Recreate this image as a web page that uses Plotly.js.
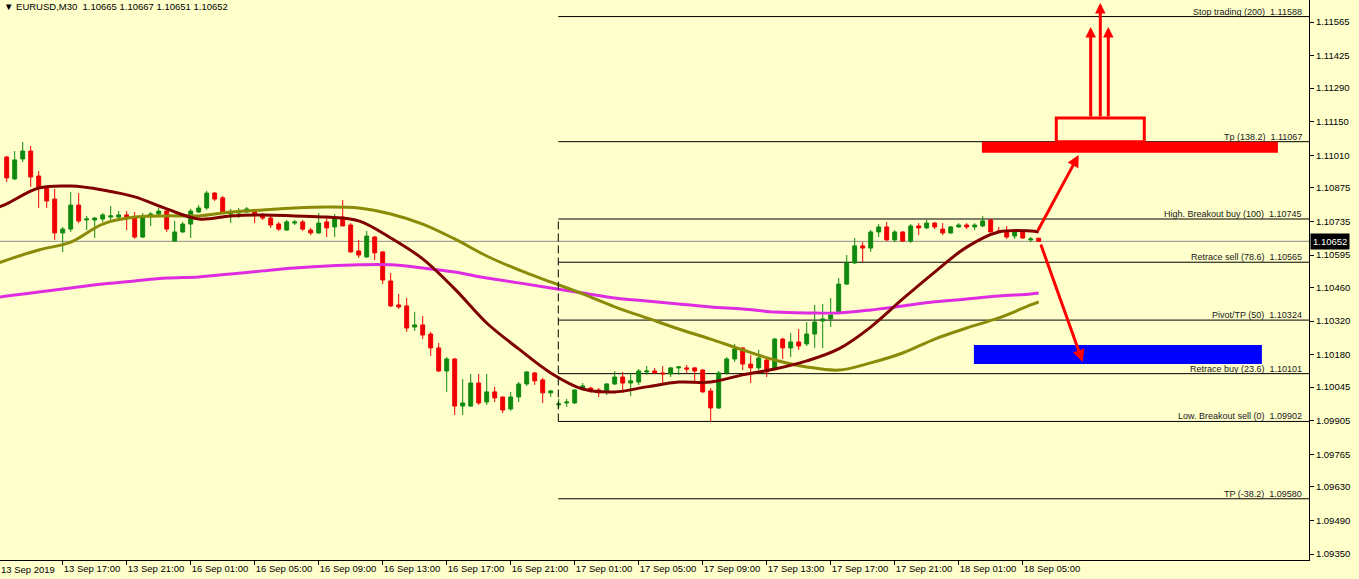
<!DOCTYPE html>
<html>
<head>
<meta charset="utf-8">
<script src="https://cdn.plot.ly/plotly-3.0.1.min.js"></script>
<style>
html,body{margin:0;padding:0;background:#FFFFCC;}
#chart{width:1359px;height:579px;}
</style>
</head>
<body>
<div id="chart"></div>
<script>
// ---- Candle data (EURUSD M30), bar 0 = 13 Sep 13:30 ----
const open  = [1.11003,1.10912,1.10995,1.11028,1.10924,1.10874,1.10828,1.10687,1.10703,1.10803,
1.10741,1.10741,1.10745,1.10753,1.10753,1.10762,1.10753,1.10670,1.10758,1.10766,
1.10778,1.10653,1.10691,1.10724,1.10774,1.10791,1.10853,1.10833,1.10766,1.10770,
1.10774,1.10778,1.10762,1.10749,1.10724,1.10699,1.10728,1.10733,1.10699,1.10687,
1.10733,1.10712,1.10753,1.10720,1.10612,1.10587,1.10670,1.10608,1.10487,1.10387,
1.10383,1.10295,1.10304,1.10266,1.10208,1.10112,1.10162,1.09966,1.09966,1.10062,
1.09983,1.10025,1.10004,1.09954,1.10004,1.10058,1.10104,1.10075,1.10021,1.09971,
1.09979,1.09979,1.10041,1.10041,1.10033,1.10025,1.10058,1.10087,1.10062,1.10066,
1.10108,1.10112,1.10104,1.10100,1.10125,1.10125,1.10125,1.10116,1.10029,1.09958,
1.10104,1.10162,1.10208,1.10141,1.10125,1.10158,1.10125,1.10245,1.10208,1.10233,
1.10225,1.10266,1.10320,1.10329,1.10358,1.10474,1.10562,1.10633,1.10624,1.10691,
1.10712,1.10658,1.10691,1.10653,1.10716,1.10708,1.10728,1.10703,1.10687,1.10712,
1.10720,1.10712,1.10716,1.10741,1.10695,1.10691,1.10674,1.10691,1.10658,1.10665];
const high  = [1.11008,1.11028,1.11066,1.11049,1.10945,1.10878,1.10870,1.10712,1.10857,1.10853,
1.10758,1.10753,1.10770,1.10799,1.10778,1.10778,1.10774,1.10770,1.10774,1.10791,
1.10791,1.10737,1.10733,1.10787,1.10803,1.10862,1.10857,1.10841,1.10787,1.10791,
1.10795,1.10787,1.10770,1.10758,1.10733,1.10741,1.10741,1.10741,1.10708,1.10770,
1.10749,1.10766,1.10824,1.10728,1.10658,1.10695,1.10674,1.10612,1.10520,1.10433,
1.10416,1.10358,1.10341,1.10275,1.10229,1.10170,1.10166,1.10079,1.10100,1.10100,
1.10100,1.10046,1.10004,1.10025,1.10066,1.10112,1.10108,1.10083,1.10033,1.09996,
1.09996,1.10037,1.10062,1.10046,1.10041,1.10062,1.10112,1.10108,1.10104,1.10120,
1.10133,1.10125,1.10133,1.10129,1.10133,1.10137,1.10129,1.10120,1.10041,1.10112,
1.10170,1.10225,1.10212,1.10179,1.10200,1.10170,1.10250,1.10250,1.10270,1.10287,
1.10316,1.10387,1.10391,1.10416,1.10499,1.10595,1.10666,1.10649,1.10699,1.10724,
1.10733,1.10699,1.10695,1.10724,1.10728,1.10741,1.10733,1.10728,1.10716,1.10728,
1.10728,1.10728,1.10758,1.10745,1.10712,1.10716,1.10695,1.10695,1.10670,1.10667];
const low   = [1.10899,1.10907,1.10982,1.10878,1.10791,1.10791,1.10658,1.10608,1.10691,1.10728,
1.10699,1.10666,1.10733,1.10733,1.10737,1.10699,1.10662,1.10666,1.10716,1.10758,
1.10691,1.10653,1.10687,1.10666,1.10770,1.10783,1.10820,1.10766,1.10728,1.10749,
1.10770,1.10728,1.10741,1.10708,1.10695,1.10695,1.10720,1.10695,1.10678,1.10683,
1.10670,1.10670,1.10716,1.10604,1.10583,1.10583,1.10574,1.10474,1.10379,1.10370,
1.10275,1.10279,1.10245,1.10175,1.10108,1.10025,1.09929,1.09929,1.09962,1.09971,
1.09971,1.09983,1.09937,1.09946,1.09983,1.10050,1.10054,1.09979,1.10004,1.09958,
1.09962,1.09975,1.10033,1.10021,1.10004,1.10012,1.10054,1.10021,1.10008,1.10054,
1.10096,1.10100,1.10062,1.10087,1.10096,1.10104,1.10071,1.10021,1.09900,1.09954,
1.10096,1.10150,1.10116,1.10062,1.10116,1.10087,1.10116,1.10162,1.10170,1.10200,
1.10216,1.10208,1.10208,1.10295,1.10354,1.10470,1.10558,1.10566,1.10608,1.10670,
1.10653,1.10649,1.10649,1.10645,1.10678,1.10703,1.10703,1.10678,1.10683,1.10708,
1.10703,1.10699,1.10712,1.10691,1.10687,1.10662,1.10662,1.10662,1.10649,1.10651];
const close = [1.10916,1.10991,1.11028,1.10920,1.10878,1.10820,1.10687,1.10703,1.10803,1.10737,
1.10745,1.10749,1.10762,1.10758,1.10762,1.10749,1.10670,1.10758,1.10766,1.10778,
1.10703,1.10691,1.10724,1.10778,1.10791,1.10853,1.10828,1.10774,1.10770,1.10778,
1.10787,1.10762,1.10749,1.10720,1.10703,1.10733,1.10733,1.10703,1.10687,1.10728,
1.10708,1.10745,1.10716,1.10608,1.10595,1.10674,1.10604,1.10491,1.10383,1.10379,
1.10291,1.10304,1.10262,1.10208,1.10112,1.10162,1.09966,1.09979,1.10062,1.09979,
1.10025,1.10000,1.09950,1.10004,1.10058,1.10108,1.10071,1.10021,1.10029,1.09975,
1.09983,1.10033,1.10050,1.10029,1.10021,1.10058,1.10087,1.10062,1.10071,1.10112,
1.10112,1.10104,1.10100,1.10125,1.10129,1.10120,1.10112,1.10025,1.09958,1.10104,
1.10162,1.10204,1.10141,1.10125,1.10166,1.10108,1.10245,1.10208,1.10233,1.10216,
1.10266,1.10316,1.10329,1.10345,1.10474,1.10562,1.10633,1.10624,1.10691,1.10712,
1.10658,1.10691,1.10653,1.10716,1.10708,1.10728,1.10712,1.10687,1.10712,1.10720,
1.10712,1.10720,1.10737,1.10691,1.10691,1.10670,1.10691,1.10666,1.10662,1.10652];

// ---- Moving averages read at every 4th bar (index -1 = bar just left of the window) ----
const maIdx = [-1,0,4,8,12,16,20,24,28,32,36,40,44,48,52,56,60,64,68,72,76,80,84,88,92,96,100,104,108,112,116,120,124,128,129];
const maFast = [1.10795,1.10808,1.10874,1.10882,1.10866,1.10837,1.10787,1.10745,1.10758,1.10762,1.10758,1.10753,1.10737,
1.10666,1.10579,1.10454,1.10312,1.10204,1.10104,1.10037,1.10025,1.10046,1.10066,1.10066,1.10096,1.10120,1.10154,
1.10204,1.10295,1.10412,1.10524,1.10628,1.10691,1.10695,1.10691];
const maMid = [1.10562,1.10574,1.10616,1.10649,1.10724,1.10753,1.10758,1.10758,1.10774,1.10783,1.10791,1.10795,1.10791,
1.10766,1.10724,1.10662,1.10591,1.10533,1.10483,1.10433,1.10379,1.10333,1.10287,1.10245,1.10200,1.10158,1.10129,
1.10116,1.10146,1.10187,1.10245,1.10291,1.10333,1.10387,1.10400];
const maSlow = [1.10420,1.10424,1.10441,1.10458,1.10474,1.10487,1.10499,1.10504,1.10516,1.10529,1.10541,1.10549,1.10554,
1.10554,1.10541,1.10524,1.10499,1.10479,1.10458,1.10437,1.10416,1.10404,1.10391,1.10379,1.10370,1.10358,1.10354,
1.10354,1.10366,1.10383,1.10400,1.10412,1.10424,1.10433,1.10437];

// ---- Axis labels ----
const timeTickIdx = [-1,7,15,23,31,39,47,55,63,71,79,87,95,103,111,119,127];
const timeTickText = ['13 Sep 2019','13 Sep 17:00','13 Sep 21:00','16 Sep 01:00','16 Sep 05:00','16 Sep 09:00',
'16 Sep 13:00','16 Sep 17:00','16 Sep 21:00','17 Sep 01:00','17 Sep 05:00','17 Sep 09:00','17 Sep 13:00',
'17 Sep 17:00','17 Sep 21:00','18 Sep 01:00','18 Sep 05:00'];
const priceTicks = [1.11565,1.11425,1.11290,1.11150,1.11010,1.10875,1.10735,1.10595,1.10460,1.10320,1.10180,1.10045,1.09905,1.09765,1.09630,1.09490,1.09350];

// ---- Fibonacci levels ----
const fibLevels = [1.11588,1.11067,1.10745,1.10565,1.10324,1.10101,1.09902,1.09580];
const fibNames = ['Stop trading (200)','Tp (138.2)','High. Breakout buy (100)','Retrace sell (78.6)','Pivot/TP (50)','Retrace buy (23.6)','Low. Breakout sell (0)','TP (-38.2)'];
const fibStartIdx = 68.95;

const symbol = 'EURUSD,M30';
const n = close.length - 1;
const lastPrice = close[n];

const xRange = [-0.8375, 162.7875];
const yRange = [1.09325, 1.11657];
const FONT = "Tahoma, 'Liberation Sans', Arial, sans-serif";
const bars = close.map((_, i) => i);

const traces = [
  {
    type: 'candlestick', x: bars, open: open, high: high, low: low, close: close,
    increasing: {line: {color: '#0F8A0F', width: 1}, fillcolor: '#0F8A0F'},
    decreasing: {line: {color: '#F00000', width: 1}, fillcolor: '#F00000'},
    whiskerwidth: 0, hoverinfo: 'skip', showlegend: false
  },
  {type: 'scatter', mode: 'lines', x: maIdx, y: maSlow, line: {color: '#E02CE0', width: 3, shape: 'spline'}, hoverinfo: 'skip', showlegend: false},
  {type: 'scatter', mode: 'lines', x: maIdx, y: maMid, line: {color: '#8A8A08', width: 3, shape: 'spline'}, hoverinfo: 'skip', showlegend: false},
  {type: 'scatter', mode: 'lines', x: maIdx, y: maFast, line: {color: '#800000', width: 3, shape: 'spline'}, hoverinfo: 'skip', showlegend: false}
];

const shapes = [];
// current price line
shapes.push({type: 'line', xref: 'paper', x0: 0, x1: 1, yref: 'y', y0: lastPrice, y1: lastPrice, line: {color: '#8C8C8C', width: 1}, layer: 'below'});
// fib lines
fibLevels.forEach(l => shapes.push({type: 'line', xref: 'x', x0: fibStartIdx, x1: xRange[1], yref: 'y', y0: l, y1: l, line: {color: '#000000', width: 1}, layer: 'below'}));
// dashed vertical line of fib tool
shapes.push({type: 'line', xref: 'x', x0: fibStartIdx, x1: fibStartIdx, yref: 'y', y0: fibLevels[6], y1: fibLevels[2], line: {color: '#000000', width: 1, dash: '8px,4px'}});
// red filled target bar
shapes.push({type: 'rect', xref: 'x', x0: 121.9, x1: 158.9, yref: 'y', y0: 1.11021, y1: fibLevels[1], fillcolor: '#FF0000', line: {width: 0}});
// red outlined box
shapes.push({type: 'rect', xref: 'x', x0: 131.2, x1: 142.2, yref: 'y', y0: fibLevels[1], y1: 1.11166, fillcolor: 'rgba(0,0,0,0)', line: {color: '#FF0000', width: 3}});
// blue zone
shapes.push({type: 'rect', xref: 'x', x0: 120.9, x1: 156.9, yref: 'y', y0: 1.10141, y1: 1.10220, fillcolor: '#0000FF', line: {width: 0}});

const annotations = [];
fibLevels.forEach((l, k) => annotations.push({
  xref: 'paper', x: 1, xanchor: 'right', xshift: -5, yref: 'y', y: l, yanchor: 'bottom', yshift: -2,
  text: fibNames[k] + '\u00a0\u00a0' + l.toFixed(5), showarrow: false,
  font: {family: FONT, size: 9, color: '#202020'}
}));
// price label on axis
annotations.push({xref: 'paper', x: 1, xanchor: 'left', xshift: 1, yref: 'y', y: lastPrice, yanchor: 'middle',
  text: lastPrice.toFixed(5), showarrow: false, bgcolor: '#000000', borderpad: 2,
  font: {family: FONT, size: 9.5, color: '#FFFFFF'}});
// header
annotations.push({xref: 'paper', x: 0, xanchor: 'left', xshift: 2, yref: 'paper', y: 1, yanchor: 'top', yshift: 1,
  text: '\u25BC\u00a0' + symbol + '\u00a0\u00a0' + [open[n], high[n], low[n], close[n]].map(v => v.toFixed(5)).join(' '),
  showarrow: false, font: {family: FONT, size: 9.5, color: '#000000'}});
// first date label (its tick lies left of the window)
annotations.push({xref: 'paper', x: 0, xanchor: 'left', xshift: -1, yref: 'paper', y: 0, yanchor: 'top', yshift: -2,
  text: timeTickText[0], showarrow: false, font: {family: FONT, size: 9.5, color: '#000000'}});

// arrows
const arrowList = [
  {tail: [135.5, 1.11166], head: [135.5, 1.11545], size: 0.7},
  {tail: [136.7, 1.11166], head: [136.7, 1.11645], size: 0.7},
  {tail: [137.7, 1.11166], head: [137.7, 1.11545], size: 0.7},
  {tail: [128.8, 1.10691], head: [134.0, 1.11012], size: 0.8},
  {tail: [129.2, 1.10645], head: [134.5, 1.10150], size: 0.8}
];
arrowList.forEach(a => annotations.push({
  xref: 'x', yref: 'y', axref: 'x', ayref: 'y', x: a.head[0], y: a.head[1], ax: a.tail[0], ay: a.tail[1],
  text: '', showarrow: true, arrowhead: 2, arrowsize: a.size, arrowwidth: 3, arrowcolor: '#FF0000', standoff: 0, startstandoff: 0
}));

const layout = {
  width: 1359, height: 579,
  margin: {l: 0, r: 50, t: 0, b: 19, pad: 0},
  paper_bgcolor: '#FFFFCC', plot_bgcolor: '#FFFFCC',
  showlegend: false, hovermode: false,
  font: {family: FONT, size: 9.5, color: '#000000'},
  xaxis: {
    range: xRange, rangeslider: {visible: false}, showgrid: false, zeroline: false,
    showline: true, linecolor: '#000000', linewidth: 1, automargin: false,
    tickmode: 'array', tickvals: timeTickIdx, ticktext: timeTickText, tickangle: 0,
    ticks: 'outside', ticklen: 4, tickcolor: '#000000', ticklabelposition: 'outside right',
    tickfont: {family: FONT, size: 9.5, color: '#000000'}, fixedrange: true
  },
  yaxis: {
    range: yRange, side: 'right', showgrid: false, zeroline: false,
    showline: true, linecolor: '#000000', linewidth: 1, automargin: false,
    tickmode: 'array', tickvals: priceTicks, ticktext: priceTicks.map(v => v.toFixed(5)),
    ticks: 'outside', ticklen: 4, tickcolor: '#000000',
    tickfont: {family: FONT, size: 9.5, color: '#000000'}, fixedrange: true
  },
  shapes: shapes,
  annotations: annotations
};

Plotly.newPlot('chart', traces, layout, {staticPlot: true, displayModeBar: false});
</script>
</body>
</html>
